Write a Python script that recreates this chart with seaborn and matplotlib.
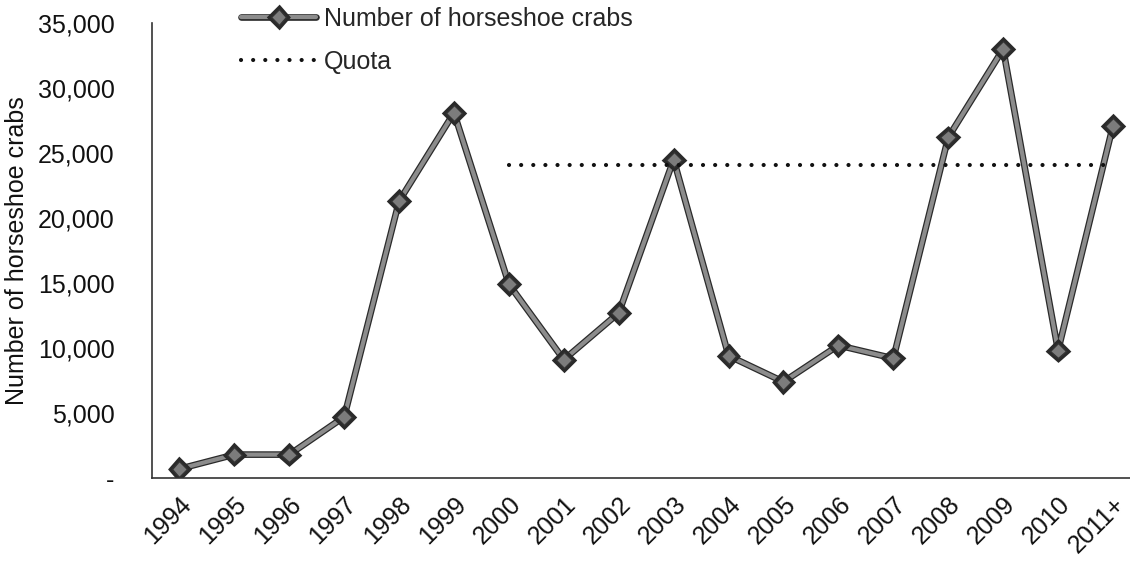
import matplotlib
matplotlib.use("Agg")
import matplotlib.pyplot as plt
import matplotlib.patheffects as pe
import seaborn as sns
import pandas as pd
import numpy as np

# data
years = ['1994', '1995', '1996', '1997', '1998', '1999', '2000', '2001', '2002',
         '2003', '2004', '2005', '2006', '2007', '2008', '2009', '2010', '2011+']
crabs = [700, 1800, 1800, 4700, 21300, 28100, 14900, 9100, 12700,
         24500, 9400, 7400, 10200, 9200, 26200, 33000, 9800, 27100]
quota = [np.nan] * 6 + [24100] * 12
y_ticks = [0, 5000, 10000, 15000, 20000, 25000, 30000, 35000]

df = pd.DataFrame({'year': years, 'crabs': crabs, 'quota': quota})

sns.set_theme(style='white')
plt.rcParams['font.family'] = ['Liberation Sans', 'DejaVu Sans']

fig = plt.figure(figsize=(11.3, 5.63), dpi=100)
ax = fig.add_axes([152 / 1130, 85 / 563, (1130 - 152) / 1130, 455 / 563])

outline = [pe.Stroke(linewidth=4.8, foreground='#2a2a2a'), pe.Normal()]
sns.lineplot(data=df, x='year', y='crabs', ax=ax, sort=False,
             color='#8c8c8c', linewidth=3.0, marker='D', markersize=8,
             markerfacecolor='#7c7c7c', markeredgecolor='#333333', markeredgewidth=1.0,
             label='Number of horseshoe crabs', path_effects=outline)
sns.lineplot(data=df, x='year', y='quota', ax=ax, sort=False,
             color='#111111', linewidth=3.0, linestyle=(0, (0.01, 2.9)),
             dash_capstyle='round', label='Quota')

ax.set_xlim(-0.5, 17.31)
ax.set_ylim(0, 35000)
ax.set_yticks(y_ticks)
ax.set_yticklabels(['-' if v == 0 else f'{v:,}' for v in y_ticks])
ax.tick_params(axis='y', labelsize=18, length=0, pad=27, colors='#111111')
ax.tick_params(axis='x', labelsize=18, length=0, pad=10, colors='#111111')
plt.setp(ax.get_xticklabels(), rotation=45, ha='right', rotation_mode='anchor')

ax.set_xlabel('')
ax.set_ylabel('Number of horseshoe crabs', fontsize=18, color='#111111', labelpad=6)

for side in ['top', 'right']:
    ax.spines[side].set_visible(False)
for side in ['left', 'bottom']:
    ax.spines[side].set_color('#333333')
    ax.spines[side].set_linewidth(1.2)

leg = ax.legend(loc='upper left', bbox_to_anchor=(0.068, 1.085), frameon=False,
                fontsize=18, handlelength=3.0, handletextpad=0.3, labelspacing=0.75)

fig.savefig('out.png', dpi=100)
